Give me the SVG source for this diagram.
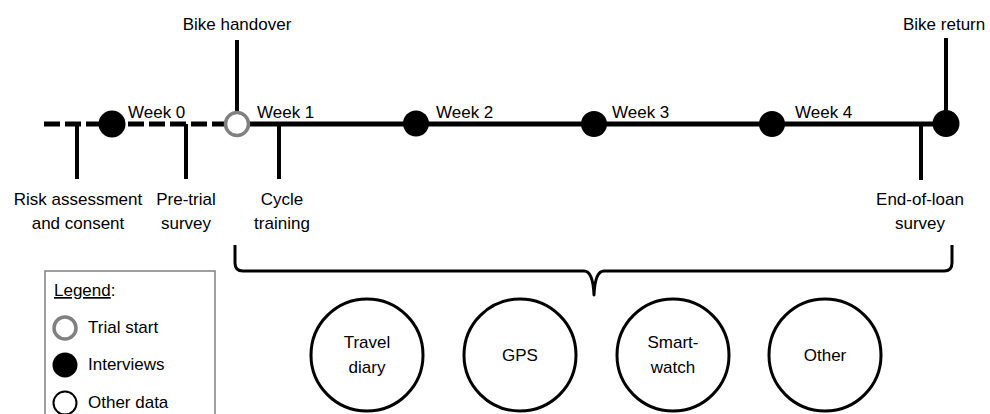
<svg xmlns="http://www.w3.org/2000/svg" width="990" height="414" viewBox="0 0 990 414">
<style>
text{font-family:"Liberation Sans",Arial,sans-serif;font-size:17px;fill:#000}
.c{text-anchor:middle}
.tl{stroke:#000;stroke-width:5;fill:none}
.tick{stroke:#000;stroke-width:4;fill:none}
.dot{fill:#000}
.start{fill:#fff;stroke:#808080;stroke-width:3.5}
.data{fill:#fff;stroke:#000;stroke-width:3}
</style>
<rect width="990" height="414" fill="#fff"/>
<g id="connectors">
<line class="tl" x1="44" y1="124" x2="225" y2="124" stroke-dasharray="16,5"/>
<line class="tl" x1="250" y1="124" x2="946" y2="124"/>
<line class="tick" x1="77" y1="124" x2="77" y2="179"/>
<line class="tick" x1="186" y1="124" x2="186" y2="179"/>
<line class="tick" x1="279" y1="124" x2="279" y2="179"/>
<line class="tick" x1="921" y1="124" x2="921" y2="180"/>
<line class="tick" x1="237" y1="40" x2="237" y2="112"/>
<line class="tick" x1="946" y1="38" x2="946" y2="112"/>
<path d="M235,245 V263 Q235,271 243,271 H584 Q593,271 594,295 Q595,271 604,271 H944 Q952,271 952,263 V245" fill="none" stroke="#000" stroke-width="3" stroke-linejoin="round"/>
</g>
<g id="week0"><circle class="dot" cx="112" cy="124" r="13.5"/><text x="128" y="118">Week 0</text></g>
<g id="handover"><circle class="start" cx="237" cy="124" r="11.5"/><text class="c" x="237" y="30">Bike handover</text><text x="257" y="118">Week 1</text></g>
<g id="week2"><circle class="dot" cx="416" cy="123.5" r="13"/><text x="436" y="118">Week 2</text></g>
<g id="week3"><circle class="dot" cx="594" cy="124" r="13"/><text x="612" y="118">Week 3</text></g>
<g id="week4"><circle class="dot" cx="772" cy="124" r="13"/><text x="795" y="118">Week 4</text></g>
<g id="return"><circle class="dot" cx="946" cy="123.5" r="13.5"/><text x="903" y="30">Bike return</text></g>
<g id="risk"><text class="c" x="78" y="205">Risk assessment</text><text class="c" x="78" y="229">and consent</text></g>
<g id="pretrial"><text class="c" x="186" y="205">Pre-trial</text><text class="c" x="186" y="229">survey</text></g>
<g id="cycle"><text class="c" x="282" y="205">Cycle</text><text class="c" x="282" y="229">training</text></g>
<g id="endloan"><text class="c" x="920" y="205">End-of-loan</text><text class="c" x="920" y="229">survey</text></g>
<g id="diary"><circle class="data" cx="367" cy="355" r="56"/><text class="c" x="367" y="348">Travel</text><text class="c" x="367" y="373">diary</text></g>
<g id="gps"><circle class="data" cx="520" cy="355" r="56"/><text class="c" x="520" y="361">GPS</text></g>
<g id="watch"><circle class="data" cx="673" cy="355" r="56"/><text class="c" x="673" y="348">Smart-</text><text class="c" x="673" y="373">watch</text></g>
<g id="other"><circle class="data" cx="825" cy="355" r="56"/><text class="c" x="825" y="361">Other</text></g>
<g id="legend">
<rect x="45" y="271" width="170" height="160" fill="#fff" stroke="#808080" stroke-width="1.5"/>
<text x="54" y="296"><tspan text-decoration="underline">Legend</tspan>:</text>
<circle class="start" cx="65" cy="328" r="11"/><text x="88" y="333">Trial start</text>
<circle class="dot" cx="65" cy="365" r="12.5"/><text x="88" y="370">Interviews</text>
<circle cx="65" cy="403" r="11.5" fill="#fff" stroke="#000" stroke-width="2"/><text x="88" y="408">Other data</text>
</g>
</svg>
